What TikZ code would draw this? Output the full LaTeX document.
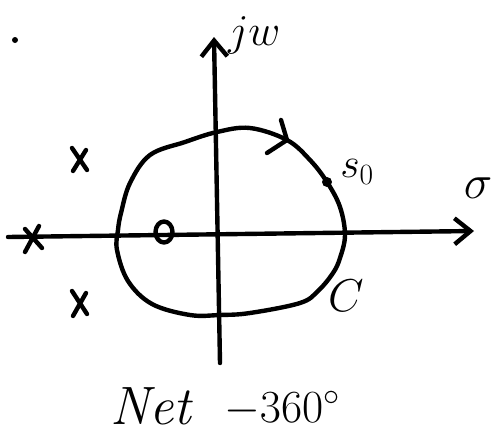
\RequirePackage{fix-cm}
\documentclass[tikz,border=0pt]{standalone}
\usetikzlibrary{arrows.meta,calc,shapes.geometric}
\begin{document}
\begin{tikzpicture}[x=1pt,y=-1pt,
  pen/.style={line width=4.4pt,line cap=round,line join=round},
  axisarrow/.style={pen,-{Straight Barb[length=16pt,width=26pt,line width=4.4pt]}},
  lbl/.style={inner sep=0pt,text=black}]
\useasboundingbox (0,0) rectangle (491,437);
% axes
\coordinate (xL) at (8,237);
\coordinate (xR) at (474,231);
\coordinate (yB) at (220,363);
\coordinate (yT) at (214,37);
\draw[axisarrow] (xL) -- (xR);
\draw[axisarrow] (yB) -- (yT);
% contour C
\draw[pen] plot[smooth cycle,tension=0.6] coordinates{
 (217,132) (250,128) (287,140) (310,160) (327,182) (340,207) (345,235)
 (340,258) (333,273) (318,291) (300,303) (250,313) (220,315) (190,315)
 (152,304) (128,281) (117,250) (118,230) (121,213) (130,183) (150,155) (185,142)};
% direction arrowhead on contour
\coordinate (ah1) at (281,120);
\coordinate (ahT) at (287,140);
\coordinate (ah2) at (267,153);
\draw[pen] (ah1) -- (ahT) -- (ah2);
% poles
\coordinate (p1) at (80,159);
\coordinate (p2) at (80,303);
\coordinate (p3) at (33,238);
\draw[pen] ($(p1)+(-8,-11)$) .. controls ($(p1)+(0,0)$) .. ($(p1)+(7,11)$);
\draw[pen] ($(p1)+(6,-9)$) -- ($(p1)+(-7,12)$);
\draw[pen] ($(p2)+(-8,-12)$) .. controls ($(p2)+(0,0)$) .. ($(p2)+(7,11)$);
\draw[pen] ($(p2)+(6,-10)$) -- ($(p2)+(-7,13)$);
\draw[pen] ($(p3)+(-8,-9)$) -- ($(p3)+(9,10)$);
\draw[pen] ($(p3)+(-8,14)$) -- ($(p3)+(6,-12)$);
% zero
\node[pen,draw,ellipse,minimum width=17pt,minimum height=21pt,inner sep=0pt] (z) at (164,232) {};
% s0 point
\fill (327,182) circle (5pt) coordinate (s0);
% top-left dot
\fill (15,40) circle (3pt) coordinate (dot);
% labels
\node[lbl,anchor=base west] (jw) at (228,45) {\fontsize{44}{48}\selectfont $jw$};
\node[lbl] (sigma) at (478,188) {\fontsize{48}{52}\selectfont $\sigma$};
\node[lbl] (s0l) at (357,172) {\fontsize{42}{46}\selectfont $s_0$};
\node[lbl] (C) at (346,296) {\fontsize{46}{50}\selectfont $C$};
\node[lbl,anchor=base west] (net) at (110,424) {\fontsize{54}{60}\selectfont \textit{Net}};
\node[lbl,anchor=base west] (deg) at (224,422) {\fontsize{46}{50}\selectfont $-360^\circ$};
\end{tikzpicture}
\end{document}
